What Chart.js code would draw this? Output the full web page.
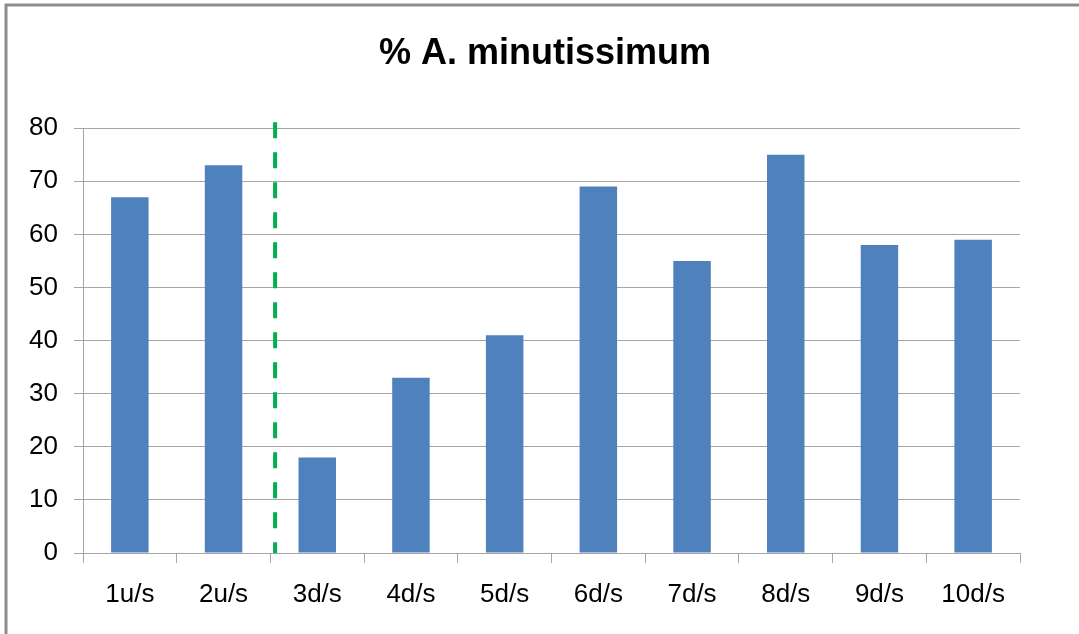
<!DOCTYPE html>
<html>
<head>
<meta charset="utf-8">
<script src="https://cdn.jsdelivr.net/npm/chart.js"></script>
<style>
  html, body { margin: 0; padding: 0; background: #fff; }
  #wrap { width: 1079px; height: 634px; position: relative; }
</style>
</head>
<body>
<div id="wrap"><canvas id="canvas"></canvas></div>
<script>
    // data
    var sites = ["1u/s", "2u/s", "3d/s", "4d/s", "5d/s", "6d/s", "7d/s", "8d/s", "9d/s", "10d/s"];
    var percentMinutissimum = [67, 73, 18, 33, 41, 69, 55, 75, 58, 59];
    var yTicks = [0, 10, 20, 30, 40, 50, 60, 70, 80];
    var dividerAfter = 1.55; // dashed line between 2u/s and 3d/s

    var axisGrey = '#a6a6a6';

    // outer frame (top and left only, the rest is cut off)
    var framePlugin = {
        id: 'frame',
        beforeDraw: function(chart) {
            var c = chart.ctx;
            c.save();
            c.fillStyle = '#fff';
            c.fillRect(0, 0, chart.width, chart.height);
            c.strokeStyle = '#8c8c8c';
            c.lineWidth = 3;
            c.beginPath();
            c.moveTo(6, chart.height);
            c.lineTo(6, 5);
            c.lineTo(chart.width, 5);
            c.stroke();
            c.restore();
        }
    };

    // green dashed divider
    var dividerPlugin = {
        id: 'divider',
        afterDatasetsDraw: function(chart) {
            var x = chart.scales.x.getPixelForValue(dividerAfter);
            var y = chart.scales.y;
            var c = chart.ctx;
            c.save();
            c.strokeStyle = '#00b050';
            c.lineWidth = 4;
            c.setLineDash([16, 14]);
            c.beginPath();
            c.moveTo(x, y.getPixelForValue(80) - 6);
            c.lineTo(x, y.getPixelForValue(0));
            c.stroke();
            c.restore();
        }
    };

    window.onload = function() {
        var ctx = document.getElementById("canvas").getContext("2d");
        window.myBar = new Chart(ctx, {
            type: 'bar',
            data: {
                labels: sites,
                datasets: [{
                    label: '% A. minutissimum',
                    data: percentMinutissimum,
                    backgroundColor: '#4f81bd',
                    borderWidth: 0,
                    barPercentage: 0.4,
                    categoryPercentage: 1
                }]
            },
            plugins: [framePlugin, dividerPlugin],
            options: {
                responsive: true,
                maintainAspectRatio: false,
                animation: false,
                layout: {
                    padding: { left: 11, right: 0, top: 0, bottom: 0 }
                },
                plugins: {
                    legend: { display: false },
                    tooltip: { enabled: false },
                    title: {
                        display: true,
                        text: '% A. minutissimum',
                        color: '#000',
                        font: { family: 'Liberation Sans', size: 36, weight: 'bold', lineHeight: 1.2 },
                        padding: { top: 32, bottom: 53 }
                    }
                },
                scales: {
                    x: {
                        grid: {
                            display: true,
                            offset: true,
                            drawOnChartArea: false,
                            drawTicks: true,
                            tickLength: 10,
                            color: axisGrey
                        },
                        border: { color: axisGrey, width: 1 },
                        ticks: {
                            color: '#000',
                            padding: 16,
                            font: { family: 'Liberation Sans', size: 26 },
                            maxRotation: 0
                        },
                        afterFit: function(scale) { scale.height = 81; }
                    },
                    y: {
                        min: 0,
                        max: 80,
                        afterBuildTicks: function(scale) {
                            scale.ticks = yTicks.map(function(v) { return { value: v }; });
                        },
                        grid: {
                            color: axisGrey,
                            tickLength: 9,
                            drawTicks: true
                        },
                        border: { color: axisGrey, width: 1 },
                        ticks: {
                            color: '#000',
                            padding: 16,
                            font: { family: 'Liberation Sans', size: 26 }
                        },
                        afterFit: function(scale) { scale.width = 72; }
                    },
                    // empty right-hand spacer so the plot ends where the reference does
                    yRight: {
                        position: 'right',
                        display: true,
                        min: 0,
                        max: 80,
                        grid: { drawOnChartArea: false, drawTicks: false },
                        border: { display: false },
                        ticks: { display: false },
                        afterFit: function(scale) { scale.width = 59; }
                    }
                }
            }
        });
    };
</script>
</body>
</html>
